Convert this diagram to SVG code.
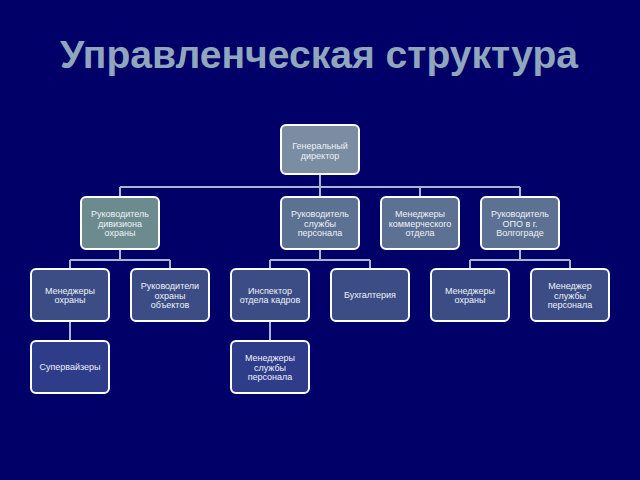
<svg xmlns="http://www.w3.org/2000/svg" width="640" height="480" viewBox="0 0 640 480">
<style>
.bg{fill:#000068}
.title{font-family:"Liberation Sans",Arial,sans-serif;font-weight:bold;font-size:38px;fill:#8fa6bd;text-anchor:middle}
.box{stroke:#ffffff;stroke-width:2}
.l1{fill:#7a8da2}
.l2a{fill:#6b8b8e}
.l2{fill:#5d7192}
.l3{fill:#3c4d85}
.l4{fill:#2e3c8a}
.t{font-family:"Liberation Sans",Arial,sans-serif;font-size:9px;fill:#eef2f8;text-anchor:middle}
.c{stroke:#a9b6cc;stroke-width:2;fill:none}
</style>
<rect class="bg" x="0" y="0" width="640" height="480"/>
<text class="title" x="319" y="68" textLength="518" lengthAdjust="spacingAndGlyphs">Управленческая структура</text>
<g id="connectors">
<path class="c" d="M320 174V187M120 187H520M120 187V197M320 187V197M420 187V197M520 187V197"/>
<path class="c" d="M120 249V260M70 260H170M70 260V269M170 260V269"/>
<path class="c" d="M320 249V260M270 260H370M270 260V269M370 260V269"/>
<path class="c" d="M520 249V260M470 260H570M470 260V269M570 260V269"/>
<path class="c" d="M70 321V341M270 321V341"/>
</g>
<g id="n_gen"><rect class="box l1" x="281" y="125" width="78" height="49" rx="5"/><text class="t" x="320" y="149">Генеральный</text><text class="t" x="320" y="158.5">директор</text></g>
<g id="n_div"><rect class="box l2a" x="81" y="197" width="78" height="52" rx="5"/><text class="t" x="120" y="217">Руководитель</text><text class="t" x="120" y="226.5">дивизиона</text><text class="t" x="120" y="236">охраны</text></g>
<g id="n_pers"><rect class="box l2" x="281" y="197" width="78" height="52" rx="5"/><text class="t" x="320" y="217">Руководитель</text><text class="t" x="320" y="226.5">службы</text><text class="t" x="320" y="236">персонала</text></g>
<g id="n_comm"><rect class="box l2" x="381" y="197" width="78" height="52" rx="5"/><text class="t" x="420" y="217">Менеджеры</text><text class="t" x="420" y="226.5">коммерческого</text><text class="t" x="420" y="236">отдела</text></g>
<g id="n_opo"><rect class="box l2" x="481" y="197" width="78" height="52" rx="5"/><text class="t" x="520" y="217">Руководитель</text><text class="t" x="520" y="226.5">ОПО в г.</text><text class="t" x="520" y="236">Волгограде</text></g>
<g id="n_mo1"><rect class="box l3" x="31" y="269" width="78" height="52" rx="5"/><text class="t" x="70" y="293.5">Менеджеры</text><text class="t" x="70" y="303">охраны</text></g>
<g id="n_ro"><rect class="box l3" x="131" y="269" width="78" height="52" rx="5"/><text class="t" x="170" y="289">Руководители</text><text class="t" x="170" y="298.5">охраны</text><text class="t" x="170" y="308">объектов</text></g>
<g id="n_insp"><rect class="box l3" x="231" y="269" width="78" height="52" rx="5"/><text class="t" x="270" y="293.5">Инспектор</text><text class="t" x="270" y="303">отдела кадров</text></g>
<g id="n_buh"><rect class="box l3" x="331" y="269" width="78" height="52" rx="5"/><text class="t" x="370" y="298">Бухгалтерия</text></g>
<g id="n_mo2"><rect class="box l3" x="431" y="269" width="78" height="52" rx="5"/><text class="t" x="470" y="293.5">Менеджеры</text><text class="t" x="470" y="303">охраны</text></g>
<g id="n_msp"><rect class="box l3" x="531" y="269" width="78" height="52" rx="5"/><text class="t" x="570" y="289">Менеджер</text><text class="t" x="570" y="298.5">службы</text><text class="t" x="570" y="308">персонала</text></g>
<g id="n_sup"><rect class="box l4" x="31" y="341" width="78" height="52" rx="5"/><text class="t" x="70" y="370">Супервайзеры</text></g>
<g id="n_msp2"><rect class="box l4" x="231" y="341" width="78" height="52" rx="5"/><text class="t" x="270" y="361">Менеджеры</text><text class="t" x="270" y="370.5">службы</text><text class="t" x="270" y="380">персонала</text></g>
</svg>
